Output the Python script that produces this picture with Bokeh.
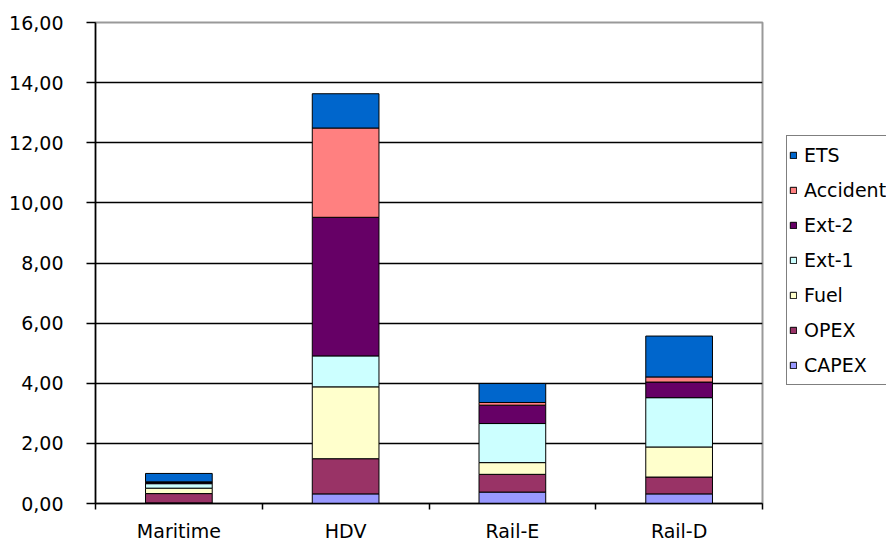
from bokeh.plotting import figure
from bokeh.layouts import row
from bokeh.models import FixedTicker, Legend, LegendItem, ColumnDataSource, Range1d
from bokeh.embed import file_html
from bokeh.resources import INLINE

# Cost components per transport mode (stacked bottom to top)
categories = ["Maritime", "HDV", "Rail-E", "Rail-D"]
components = ["CAPEX", "OPEX", "Fuel", "Ext-1", "Ext-2", "Accident", "ETS"]

capex = [0.02, 0.32, 0.38, 0.32]
opex = [0.31, 1.17, 0.59, 0.56]
fuel = [0.18, 2.39, 0.39, 1.00]
ext1 = [0.15, 1.03, 1.30, 1.64]
ext2 = [0.04, 4.61, 0.61, 0.52]
accident = [0.02, 2.97, 0.09, 0.17]
ets = [0.28, 1.14, 0.63, 1.36]

colors = ["#9999FF", "#993366", "#FFFFCC", "#CCFFFF", "#660066", "#FF8080", "#0066CC"]

y_ticks = [0, 2, 4, 6, 8, 10, 12, 14, 16]
y_tick_labels = ["0,00", "2,00", "4,00", "6,00", "8,00", "10,00", "12,00", "14,00", "16,00"]

FONT = "DejaVu Sans"
FONT_SIZE = "19px"
MAIN_W = 776
H = 544

x_pos = [i + 0.5 for i in range(len(categories))]
source = ColumnDataSource(dict(
    x=x_pos, CAPEX=capex, OPEX=opex, Fuel=fuel, **{"Ext-1": ext1, "Ext-2": ext2},
    Accident=accident, ETS=ets,
))

p = figure(
    width=MAIN_W, height=H,
    x_range=Range1d(0, len(categories)), y_range=Range1d(0, 16),
    output_backend="svg", toolbar_location=None,
    min_border_left=95, min_border_right=MAIN_W - 762, min_border_top=22, min_border_bottom=41,
)
p.background_fill_color = "white"
p.border_fill_color = "white"
p.outline_line_color = "#999999"
p.outline_line_width = 2

renderers = p.vbar_stack(
    components, x="x", width=0.4, source=source,
    fill_color=colors, line_color="black", line_width=1,
)

# Axes
xa = p.xaxis[0]
xa.ticker = FixedTicker(ticks=x_pos, minor_ticks=list(range(len(categories) + 1)))
xa.major_label_overrides = {x: c for x, c in zip(x_pos, categories)}
xa.major_tick_out = 0
xa.major_tick_in = 0
xa.minor_tick_out = 6
xa.minor_tick_in = 0
xa.minor_tick_line_color = "black"
xa.minor_tick_line_width = 1.5
xa.axis_line_color = "black"
xa.axis_line_width = 1.5
xa.major_label_text_font = FONT
xa.major_label_text_font_size = FONT_SIZE
xa.major_label_text_color = "black"
xa.major_label_standoff = 10

ya = p.yaxis[0]
ya.ticker = FixedTicker(ticks=y_ticks, minor_ticks=[])
ya.major_label_overrides = {t: l for t, l in zip(y_ticks, y_tick_labels)}
ya.major_tick_out = 9
ya.major_tick_in = 0
ya.major_tick_line_color = "black"
ya.major_tick_line_width = 1.5
ya.axis_line_color = "black"
ya.axis_line_width = 1.5
ya.major_label_text_font = FONT
ya.major_label_text_font_size = FONT_SIZE
ya.major_label_text_color = "black"
ya.major_label_standoff = 23

p.xgrid.visible = False
p.ygrid.ticker = FixedTicker(ticks=y_ticks[1:-1], minor_ticks=[])
p.ygrid.grid_line_color = "black"
p.ygrid.grid_line_width = 1.4

# Legend panel beside the chart; top entry = top of stack
lg = figure(
    width=886 - MAIN_W, height=H,
    x_range=Range1d(0, 1), y_range=Range1d(0, 1),
    x_axis_location=None, y_axis_location=None,
    output_backend="svg", toolbar_location=None,
    min_border=0,
)
lg.grid.visible = False
lg.outline_line_color = None
lg.background_fill_color = "white"
lg.border_fill_color = "white"

# swatch renderers sit outside the visible range; only their legend glyphs show
swatches = [
    lg.vbar(x=[2], top=[0], width=0, fill_color=c, line_color="black", line_width=1)
    for c in colors
]
items = [LegendItem(label=name, renderers=[r]) for name, r in zip(components, swatches)]
legend = Legend(
    items=list(reversed(items)),
    location=(10, 118),
    orientation="vertical",
    label_text_font=FONT, label_text_font_size=FONT_SIZE, label_text_color="black",
    glyph_width=8, glyph_height=8, label_height=34, label_standoff=7,
    spacing=1, padding=2, margin=0,
    border_line_color="black", border_line_width=1.5,
    background_fill_color="white", background_fill_alpha=1,
)
lg.add_layout(legend, "center")

layout = row(p, lg, spacing=0)
open("out.html", "w").write(file_html(layout, INLINE))
